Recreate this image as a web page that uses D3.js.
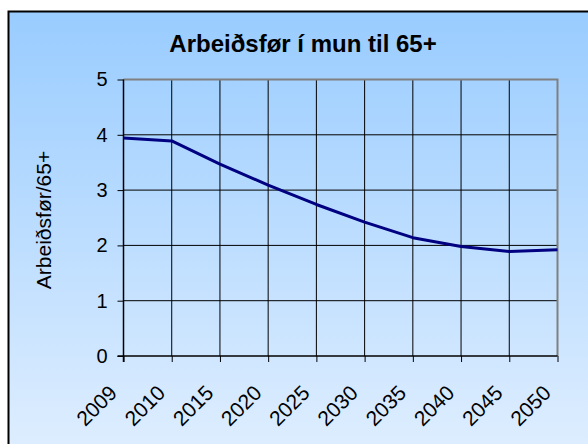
<!DOCTYPE html>
<html><head><meta charset="utf-8">
<script src="https://cdn.jsdelivr.net/npm/d3@7"></script>
<style>body{margin:0;background:#fff;}svg{display:block;}</style>
</head><body>
<script>
const years = ["2009","2010","2015","2020","2025","2030","2035","2040","2045","2050"];
const ratio = [3.94, 3.89, 3.47, 3.09, 2.74, 2.42, 2.14, 1.98, 1.89, 1.92];
const yTicks = [0,1,2,3,4,5];
const title = "Arbeiðsfør í mun til 65+";
const yTitle = "Arbeiðsfør/65+";

const W = 588, H = 444;
const FONT = "Arial, 'Liberation Sans', sans-serif";
const svg = d3.select("body").append("svg").attr("width", W).attr("height", H);
const defs = svg.append("defs");
const g = defs.append("linearGradient").attr("id","bg").attr("x1",0).attr("y1",0).attr("x2",0).attr("y2",1);
g.append("stop").attr("offset","0%").attr("stop-color","#99ccff");
g.append("stop").attr("offset","100%").attr("stop-color","#dfeeff");

svg.append("rect").attr("x",8.5).attr("y",11.5).attr("width",W).attr("height",H)
  .attr("fill","url(#bg)").attr("stroke","#000").attr("stroke-width",2);

const L=123.5, R=557.5, T=79.5, B=356;
const x = d3.scalePoint().domain(years).range([L,R]);
const y = d3.scaleLinear().domain([0,5]).range([B,T]);

// grid
svg.append("g").selectAll("line").data(yTicks.filter(d=>d>0&&d<5)).join("line")
  .attr("x1",L).attr("x2",R).attr("y1",d=>y(d)).attr("y2",d=>y(d)).attr("stroke","#000").attr("stroke-width",1);
svg.append("g").selectAll("line").data(years.slice(1,-1)).join("line")
  .attr("x1",d=>x(d)).attr("x2",d=>x(d)).attr("y1",T).attr("y2",B).attr("stroke","#000").attr("stroke-width",1);
// plot frame top/right grey
svg.append("path").attr("d",`M${L},${T}H${R}V${B}`).attr("fill","none").attr("stroke","#808080").attr("stroke-width",2);

// axes
const yAxis = svg.append("g").attr("transform",`translate(${L},0)`)
  .call(d3.axisLeft(y).tickValues(yTicks).tickSize(6).tickPadding(10).tickFormat(d3.format("d")));
const xAxis = svg.append("g").attr("transform",`translate(0,${B})`)
  .call(d3.axisBottom(x).tickSize(6).tickPadding(0));
[yAxis,xAxis].forEach(a=>{
  a.attr("font-size",null).attr("font-family",null);
  a.select(".domain").attr("stroke","#000").attr("stroke-width",1.5);
  a.selectAll(".tick line").attr("stroke","#000");
  a.selectAll("text").attr("fill","#000").style("font-family",FONT).style("font-size","20px");
});
yAxis.select(".domain").attr("d",`M0,${B+6}V${T}`);
xAxis.select(".domain").attr("d",`M${L-6},0H${R}`);
xAxis.selectAll(".tick text")
  .style("font-size","21px")
  .attr("text-anchor","end").attr("dy","0")
  .attr("transform","translate(-10,34) rotate(-45)");

// line
svg.append("path").datum(ratio)
  .attr("d", d3.line().x((d,i)=>x(years[i])).y(d=>y(d)))
  .attr("fill","none").attr("stroke","#000080").attr("stroke-width",3).attr("stroke-linejoin","round");

// titles
svg.append("text").attr("x",303).attr("y",52).attr("text-anchor","middle")
  .style("font-family",FONT).style("font-size","24px").style("font-weight","bold")
  .text(title);
svg.append("text").attr("transform",`translate(51,220) rotate(-90)`).attr("text-anchor","middle")
  .style("font-family",FONT).style("font-size","21px")
  .text(yTitle);
</script>
</body></html>
